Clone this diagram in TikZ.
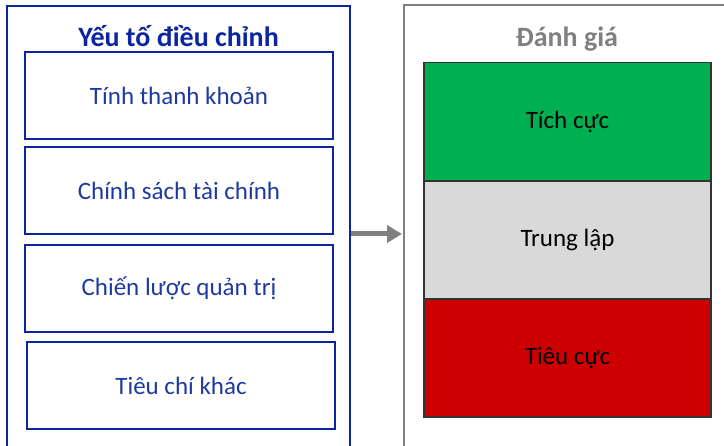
\documentclass[tikz,border=0pt]{standalone}
\usepackage{fontspec}
\setmainfont{Carlito}
\usetikzlibrary{arrows.meta}
\definecolor{navy}{HTML}{0A259E}
\definecolor{txtblue}{HTML}{1F3A9E}
\definecolor{grn}{HTML}{00B050}
\definecolor{lgray}{HTML}{D9D9D9}
\definecolor{rd}{HTML}{CC0000}
\definecolor{titlegray}{HTML}{808080}
\tikzset{
  x=1pt, y=-1pt,
  factorbox/.style={draw=navy, line width=2pt, minimum width=308pt, minimum height=87pt, inner sep=0pt,
    text=txtblue, font=\fontsize{25}{30}\selectfont},
  evalbox/.style={draw=black!80, line width=1.2pt, minimum width=287pt, minimum height=118pt, inner sep=0pt,
    text=black, font=\fontsize{25}{30}\selectfont},
}
\begin{document}
\begin{tikzpicture}
\useasboundingbox (0,0) rectangle (724,446);
\begin{scope}
\clip (0,0) rectangle (724,446);
\draw[navy, line width=2pt] (7,6) rectangle (350,460);
\draw[gray, line width=2pt] (404,5) rectangle (730,460);
\end{scope}
\node[text=navy, font=\bfseries\fontsize{28}{32}\selectfont] (t1) at (178.5,36) {Yếu tố điều chỉnh};
\node[factorbox] (f1) at (179,96) {Tính thanh khoản};
\node[factorbox] (f2) at (179,191) {Chính sách tài chính};
\node[factorbox] (f3) at (179,288.5) {Chiến lược quản trị};
\node[factorbox] (f4) at (181,386) {Tiêu chí khác};
\node[text=titlegray, font=\bfseries\fontsize{28}{32}\selectfont] (t2) at (567,39) {Đánh giá};
\node[evalbox, fill=grn] (e1) at (567.5,121.5) {Tích cực};
\node[evalbox, fill=lgray] (e2) at (567.5,240) {Trung lập};
\node[evalbox, fill=rd] (e3) at (567.5,358) {Tiêu cực};
\coordinate (a0) at (351,234);
\coordinate (a1) at (402,234);
\draw[gray, line width=5pt, -{Triangle[length=15pt,width=17pt]}] (a0) -- (a1);
\end{tikzpicture}
\end{document}
